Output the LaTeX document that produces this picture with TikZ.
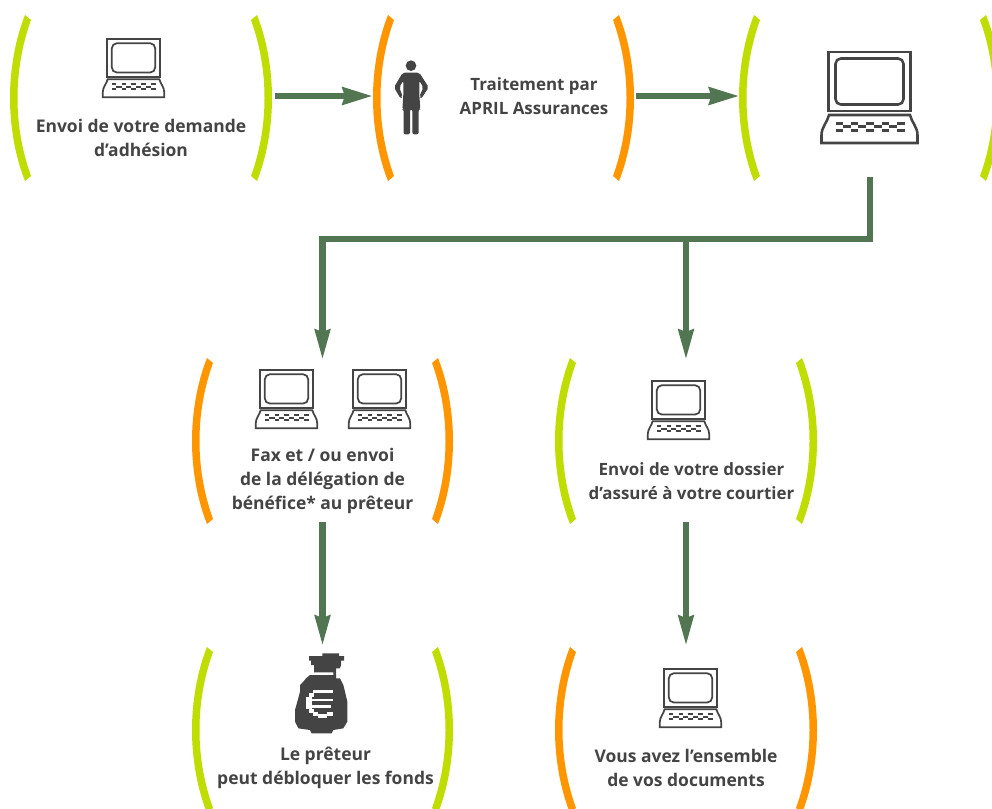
\documentclass[tikz,border=0pt]{standalone}
\usepackage{fontspec}
\usetikzlibrary{arrows.meta}
\setmainfont{Open Sans}
\definecolor{lime}{HTML}{BFDD00}
\definecolor{amber}{HTML}{FF9600}
\definecolor{flowc}{HTML}{517651}
\definecolor{ink}{HTML}{444444}
\tikzset{
  box/.style={inner sep=0pt,outer sep=0pt,minimum width=#1*0.75pt},
  lbl/.style={text=ink,font=\fontsize{13.1}{18}\selectfont\bfseries,align=center,inner sep=0pt},
  lblnarrow/.style={lbl,font=\fontsize{12.7}{18}\selectfont\bfseries},
  flow/.style={draw=flowc,line width=5.1pt,line join=miter},
  flowtip/.style={flow,-{Stealth[length=22.5pt,width=12.5pt,inset=1.5pt]}},
  vflowtip/.style={flow,line width=4.8pt,shorten >=-1.5pt,-{Stealth[length=22.5pt,width=11pt,inset=1.5pt]}},
  icon/.style={draw=ink,fill=none}
}
\newcommand{\lbrk}[3]{% left bracket: x, top y, colour
  \fill[#3,shift={(#1,#2)}] (15,0) .. controls (5,25) and (0,55) .. (0,83)
    .. controls (0,111) and (5,141) .. (15,166) -- (21,161)
    .. controls (12,136) and (7.5,110) .. (7.5,83)
    .. controls (7.5,56) and (12,30) .. (21,5) -- cycle;}
\newcommand{\rbrk}[3]{% right bracket: right x, top y, colour
  \fill[#3,shift={(#1,#2)},xscale=-1] (15,0) .. controls (5,25) and (0,55) .. (0,83)
    .. controls (0,111) and (5,141) .. (15,166) -- (21,161)
    .. controls (12,136) and (7.5,110) .. (7.5,83)
    .. controls (7.5,56) and (12,30) .. (21,5) -- cycle;}
\newcommand{\laptop}[4]{% centre x, top y, scale, line width
  \begin{scope}[shift={(#1,#2)},scale=#3,line width=#4]
    \draw[icon] (-41,0) rectangle (41,59);
    \draw[icon,rounded corners=4pt] (-34,6.5) rectangle (34,52.5);
    \draw[icon] (-40.5,63) -- (40.5,63) .. controls (42,70) and (48,75) .. (48,83)
      -- (48,91) -- (-48,91) -- (-48,83) .. controls (-48,75) and (-42,70) .. (-40.5,63) -- cycle;
    \foreach \k in {-34,-18.6,-3.2,12.2,27.6}{
      \fill[ink] (\k,69.5) rectangle ++(7.4,3);
      \fill[ink] (\k,76.5) rectangle ++(7.4,3);
    }
    \foreach \k in {-26.6,-11.2,4.2,19.6}{
      \fill[ink] (\k,73.2) rectangle ++(8,2.6);
    }
  \end{scope}}
\begin{document}
\begin{tikzpicture}[x=0.75pt,y=-0.75pt]
\useasboundingbox (0,0) rectangle (992,808);
\clip (0,0) rectangle (992,808);
\fill[white] (0,0) rectangle (992,808);

% boxes used as connector anchors
\node[box=265,minimum height=121.5pt] (b1) at (142.5,96) {};
\node[box=263,minimum height=121.5pt] (b2) at (504.5,96) {};
\node[box=261,minimum height=121.5pt] (b3) at (870,96) {};
\node[box=261,minimum height=123pt] (b4) at (322.5,440) {};
\node[box=262,minimum height=123pt] (b5) at (686,440) {};
\node[box=261,minimum height=123pt] (b6) at (322.5,726) {};
\node[box=262,minimum height=123pt] (b7) at (686,726) {};
\coordinate (bar) at (600,239);

% brackets
\lbrk{10}{15}{lime}\rbrk{272}{15}{lime}
\lbrk{373}{15}{amber}\rbrk{634}{15}{amber}
\lbrk{739}{15}{lime}\rbrk{1001}{15}{lime}
\lbrk{192}{358}{amber}\rbrk{453}{358}{amber}
\lbrk{555}{358}{lime}\rbrk{817}{358}{lime}
\lbrk{192}{647}{lime}\rbrk{453}{647}{lime}
\lbrk{555}{647}{amber}\rbrk{817}{647}{amber}

% connectors
\draw[flowtip] (b1.east) -- (b2.west);
\draw[flowtip] (b2.east) -- (b3.west);
\draw[vflowtip] (b3.south) -- (b3.south |- bar) -- (b4.north |- bar) -- (b4.north);
\draw[vflowtip] (b5.north |- bar) -- (b5.north);
\draw[vflowtip] (b4.south) -- (b6.north);
\draw[vflowtip] (b5.south) -- (b7.north);

% laptops
\laptop{133.5}{39}{0.64}{1.3pt}
\laptop{869.5}{52}{1}{1.9pt}
\laptop{286.5}{370}{0.64}{1.3pt}
\laptop{379.5}{370}{0.64}{1.3pt}
\laptop{678.5}{381}{0.64}{1.3pt}
\laptop{690.5}{669}{0.64}{1.3pt}

% person
\begin{scope}[shift={(360,0)},x=0.25pt,y=-0.25pt]
  \fill[ink] (153,197) circle[radius=16];
  \fill[ink,rounded corners=1.5pt] (128,218) -- (178,218) -- (206,262) -- (184,296) -- (178,290)
    -- (190,262) -- (178,242) -- (178,285) -- (181,328) -- (176,328) -- (176,403) -- (157,403)
    -- (157,328) -- (150,328) -- (150,403) -- (131,403) -- (131,328) -- (127,328) -- (130,285)
    -- (130,242) -- (118,262) -- (128,290) -- (122,296) -- (102,262) -- cycle;
\end{scope}

% money bag
\begin{scope}[shift={(290,650)},x=0.25pt,y=-0.25pt]
  \fill[ink] (97,10) -- (147,10) -- (147,18) -- (162,18) -- (162,32) -- (153,32) -- (153,45)
    -- (150,55) -- (138,55) -- (138,85) -- (150,85) -- (160,105) -- (165,125) -- (172,155)
    -- (172,215) -- (160,235) -- (130,240) -- (125,250) -- (65,250) -- (60,240) -- (25,235)
    -- (15,215) -- (15,180) -- (22,155) -- (30,125) -- (30,105) -- (40,95) -- (48,85)
    -- (60,75) -- (130,75) -- (130,67) -- (72,67) -- (72,45) -- (63,45) -- (63,32)
    -- (57,32) -- (57,18) -- (97,18) -- cycle;
  \fill[white] (68,120) rectangle (130,130);
  \fill[white] (58,130) rectangle (72,140);
  \fill[white] (47,140) rectangle (66,178);
  \fill[white] (66,146) rectangle (128,152);
  \fill[white] (60,165) rectangle (122,175);
  \fill[white] (58,178) rectangle (72,190);
  \fill[white] (70,185) rectangle (85,197);
  \fill[white] (85,192) rectangle (112,204);
  \fill[white] (112,185) rectangle (130,197);
\end{scope}

% labels
\node[lbl] (t1) at (141,138) {Envoi de votre demande\\d’adhésion};
\node[lblnarrow] (t2) at (534,96) {Traitement par\\APRIL Assurances};
\node[lbl] (t4) at (322.5,481) {Fax et / ou envoi\\de la délégation de\\bénéfice* au prêteur};
\node[lblnarrow] (t5) at (691.5,481) {Envoi de votre dossier\\d’assuré à votre courtier};
\node[lbl] (t6) at (325.5,768) {Le prêteur\\peut débloquer les fonds};
\node[lbl] (t7) at (686,768) {Vous avez l’ensemble\\de vos documents};
\end{tikzpicture}
\end{document}
